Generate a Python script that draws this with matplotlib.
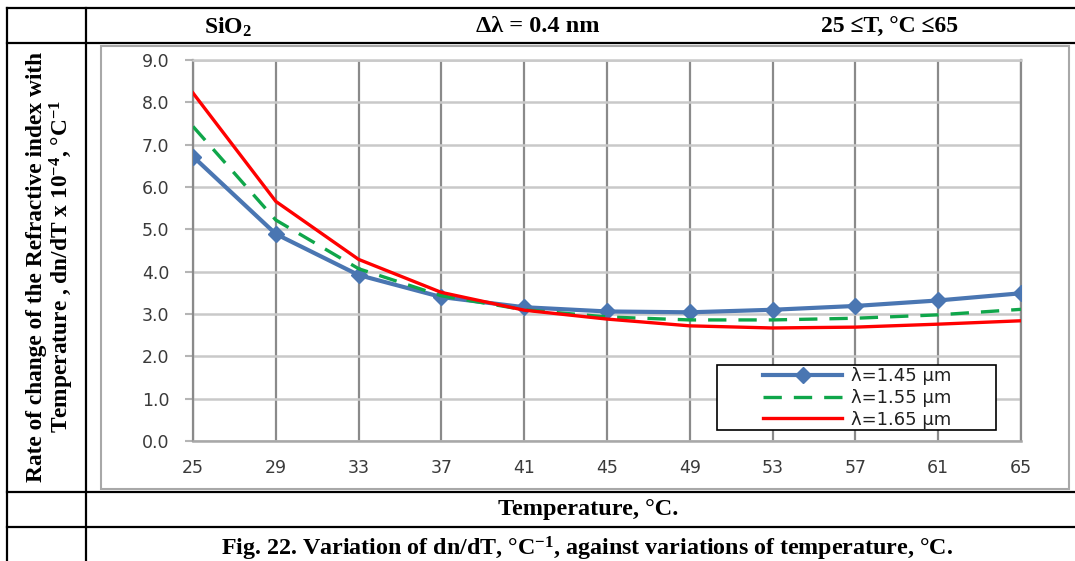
import matplotlib
matplotlib.use("Agg")
import matplotlib.pyplot as plt
from matplotlib.lines import Line2D
from matplotlib.patches import Rectangle

# ---- data ----
temperature = [25, 29, 33, 37, 41, 45, 49, 53, 57, 61, 65]
dndt_145 = [6.72, 4.89, 3.92, 3.40, 3.16, 3.06, 3.04, 3.10, 3.19, 3.32, 3.49]
dndt_155 = [7.43, 5.22, 4.07, 3.43, 3.10, 2.93, 2.86, 2.86, 2.90, 2.98, 3.11]
dndt_165 = [8.22, 5.66, 4.29, 3.51, 3.09, 2.88, 2.72, 2.67, 2.69, 2.76, 2.84]
series_labels = ["λ=1.45 µm", "λ=1.55 µm", "λ=1.65 µm"]
x_ticks = [25, 29, 33, 37, 41, 45, 49, 53, 57, 61, 65]
y_ticks = [0, 1, 2, 3, 4, 5, 6, 7, 8, 9]
header_texts = ["SiO$_2$", "Δλ = 0.4 nm", "25 ≤T, °C ≤65"]
y_label = "Rate of change of the Refractive index with\nTemperature , dn/dT x 10$^{-4}$, °C$^{-1}$"
x_label = "Temperature, °C."
caption = "Fig. 22. Variation of dn/dT, °C$^{-1}$, against variations of temperature, °C."

plt.rcParams['mathtext.default'] = 'regular'

W, H = 1075, 561
fig = plt.figure(figsize=(W / 100, H / 100), dpi=100)
fig.patch.set_facecolor('white')


def fx(x):
    return x / W


def fy(y):
    return 1 - y / H


def hline(y, x0, x1, lw=1.6, color='black'):
    fig.add_artist(Line2D([fx(x0), fx(x1)], [fy(y), fy(y)], transform=fig.transFigure,
                          color=color, lw=lw, zorder=5))


def vline(x, y0, y1, lw=1.6, color='black'):
    fig.add_artist(Line2D([fx(x), fx(x)], [fy(y0), fy(y1)], transform=fig.transFigure,
                          color=color, lw=lw, zorder=5))


# table lines
hline(8, 7, W)
hline(43, 7, W)
hline(492, 7, W)
hline(527, 7, W)
vline(7, 8, H)
vline(86, 8, H)

# chart frame
fig.add_artist(Rectangle((fx(101), fy(489)), (1069 - 101) / W, (489 - 46) / H,
                         transform=fig.transFigure, facecolor='white',
                         edgecolor='#a8a8a8', lw=1.5, zorder=-1))

serif = dict(family='Liberation Serif', weight='bold', color='black')
fig.text(fx(228), fy(27), header_texts[0], ha='center', va='center', fontsize=17, **serif)
fig.text(fx(538), fy(27), header_texts[1], ha='center', va='center', fontsize=17.5, **serif)
fig.text(fx(890), fy(27), header_texts[2], ha='center', va='center', fontsize=17, **serif)
fig.text(fx(51), fy(267), y_label, ha='center', va='center', rotation=90,
         fontsize=16.8, linespacing=1.05, multialignment='center', **serif)
fig.text(fx(588), fy(509), x_label, ha='center', va='center', fontsize=17.5, **serif)
fig.text(fx(587), fy(549), caption, ha='center', va='center', fontsize=17.3, **serif)

ax = fig.add_axes([fx(193), fy(441), (1021 - 193) / W, (441 - 60) / H])
ax.set_xlim(25, 65)
ax.set_ylim(0, 9)
ax.set_xticks(x_ticks)
ax.set_yticks(y_ticks)
ax.set_yticklabels([f"{v:.1f}" for v in y_ticks])
ax.set_xticklabels([str(v) for v in x_ticks])

ax.yaxis.grid(True, color='#c9c9c9', lw=1.8)
ax.xaxis.grid(True, color='#8a8a8a', lw=1.6)
ax.set_axisbelow(True)
ax.spines['left'].set_color('#8a8a8a')
ax.spines['left'].set_linewidth(1.6)
ax.spines['right'].set_color('#8a8a8a')
ax.spines['right'].set_linewidth(1.6)
ax.spines['top'].set_color('#c9c9c9')
ax.spines['top'].set_linewidth(1.8)
ax.spines['bottom'].set_color('#a8a8a8')
ax.spines['bottom'].set_linewidth(1.8)

ax.tick_params(axis='y', length=6, width=1.5, color='#b5b5b5', pad=11, labelcolor='#3a3a3a',
               labelsize=12.5)
ax.tick_params(axis='x', length=0, pad=13, labelcolor='#3a3a3a', labelsize=12.5)
for lab in ax.get_xticklabels() + ax.get_yticklabels():
    lab.set_family('DejaVu Sans')

l1, = ax.plot(temperature, dndt_145, color='#4a76b2', lw=3.0, marker='D', markersize=8,
              markeredgecolor='#4a76b2', label=series_labels[0], zorder=3)
l2, = ax.plot(temperature, dndt_155, color='#0fa64a', lw=2.4, dashes=(5.5, 3.6),
              label=series_labels[1], zorder=4)
l3, = ax.plot(temperature, dndt_165, color='#ff0000', lw=2.4, label=series_labels[2], zorder=5)

# legend box
fig.add_artist(Rectangle((fx(717), fy(430)), (996 - 717) / W, (430 - 365) / H,
                         transform=fig.transFigure, facecolor='white',
                         edgecolor='black', lw=1.2, zorder=6))
leg = fig.legend(handles=[l1, l2, l3], loc='center', bbox_to_anchor=(fx(857), fy(398)),
                 bbox_transform=fig.transFigure, frameon=False, numpoints=1,
                 handlelength=4.4, handletextpad=0.45, labelspacing=0.2,
                 prop=dict(family='DejaVu Sans', size=13), borderpad=0.2)
leg.set_zorder(7)
for t in leg.get_texts():
    t.set_color('#202020')

fig.savefig("out.png", dpi=100, facecolor='white')
